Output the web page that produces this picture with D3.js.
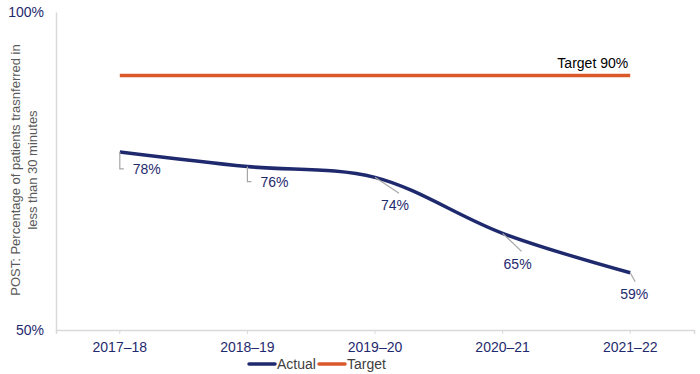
<!DOCTYPE html>
<html>
<head>
<meta charset="utf-8">
<script src="https://cdn.jsdelivr.net/npm/d3@7"></script>
<style>
  body { margin: 0; background: #fff; }
  svg { font-family: "Liberation Sans", Arial, sans-serif; }
</style>
</head>
<body>
<svg id="chart" width="700" height="374"></svg>
<script>
// data
const years = ['2017–18', '2018–19', '2019–20', '2020–21', '2021–22'];
const actual = [78.0, 75.7, 74.0, 65.2, 59.0];
const target = [90, 90, 90, 90, 90];
const yTicks = [50, 100];
// label offsets relative to each point (leader line end, label pos)
const labelOffsets = [
  {lx: 0, ly: 17, hx: 4, tx: 13, ty: 22, anchor: 'start'},
  {lx: 0, ly: 15, hx: 4, tx: 13, ty: 20, anchor: 'start'},
  {lx: 24, ly: 16, hx: 0, tx: 20, ty: 33, anchor: 'middle'},
  {lx: 19, ly: 18, hx: 0, tx: 15, ty: 36, anchor: 'middle'},
  {lx: 5, ly: 9, hx: 0, tx: 4, ty: 26, anchor: 'middle'}
];

const navy = '#1f2a6e';
const orange = '#d9592a';
const axisGrey = '#d9d9d9';

const margin = {top: 12, right: 6, bottom: 44, left: 56};
const width = 700 - margin.left - margin.right;
const height = 374 - margin.top - margin.bottom;

const svg = d3.select('#chart');
const chart = svg.append('g')
    .attr('transform', `translate(${margin.left},${margin.top})`);

const xScale = d3.scaleBand()
    .domain(years)
    .range([0, width]);
const xPos = d => xScale(d) + xScale.bandwidth() / 2;

const yScale = d3.scaleLinear()
    .domain([50, 100])
    .range([height, 0]);

// x axis
const xAxisG = chart.append('g')
    .attr('transform', `translate(0,${height})`)
    .call(d3.axisBottom(xScale).tickSize(4).tickPadding(8).tickSizeOuter(4));
xAxisG.select('.domain').attr('stroke', axisGrey).attr('stroke-width', 1.5);
xAxisG.selectAll('.tick line').attr('stroke', axisGrey);
xAxisG.selectAll('.tick text')
    .attr('fill', navy)
    .style('font-size', '14px');

// y axis
const yAxisG = chart.append('g')
    .call(d3.axisLeft(yScale).tickValues(yTicks).tickSize(0).tickPadding(12)
      .tickFormat(d => d + '%'));
yAxisG.select('.domain').attr('stroke', axisGrey).attr('stroke-width', 1.5);
yAxisG.selectAll('.tick text')
    .attr('fill', navy)
    .style('font-size', '14px');

// y axis title
const yTitle = svg.append('text')
    .attr('transform', 'translate(20,170) rotate(-90)')
    .attr('text-anchor', 'middle')
    .attr('fill', '#595959')
    .style('font-size', '13px');
yTitle.append('tspan').attr('x', 0).attr('dy', 0)
    .text('POST: Percentage of patients trasnferred in');
yTitle.append('tspan').attr('x', 0).attr('dy', 17)
    .text('less than 30 minutes');

// target line
const line = d3.line()
    .x((d, i) => xPos(years[i]))
    .y(d => yScale(d));

chart.append('path')
    .datum(target)
    .attr('fill', 'none')
    .attr('stroke', orange)
    .attr('stroke-width', 3.5)
    .attr('d', line);

chart.append('text')
    .attr('x', xPos(years[years.length - 1]) - 2)
    .attr('y', yScale(target[target.length - 1]) - 8)
    .attr('text-anchor', 'end')
    .attr('fill', '#000')
    .style('font-size', '14px')
    .text('Target ' + target[target.length - 1] + '%');

// actual line
chart.append('path')
    .datum(actual)
    .attr('fill', 'none')
    .attr('stroke', navy)
    .attr('stroke-width', 3.5)
    .attr('d', line.curve(d3.curveCatmullRom.alpha(0.5)));

// data labels with leader lines
const labels = chart.append('g');
actual.forEach((v, i) => {
  const x = xPos(years[i]);
  const y = yScale(v);
  const o = labelOffsets[i];
  const pts = o.hx ? [[x, y], [x + o.lx, y + o.ly], [x + o.hx, y + o.ly]]
                   : [[x, y], [x + o.lx, y + o.ly]];
  labels.append('path')
      .attr('d', d3.line()(pts))
      .attr('fill', 'none')
      .attr('stroke', '#a6a6a6')
      .attr('stroke-width', 1.2);
  labels.append('text')
      .attr('x', x + o.tx)
      .attr('y', y + o.ty)
      .attr('text-anchor', o.anchor)
      .attr('fill', navy)
      .style('font-size', '14px')
      .text(d3.format('.0f')(v) + '%');
});

// legend
const legend = svg.append('g').attr('transform', 'translate(249,364)');
const legendItems = [{name: 'Actual', color: navy}, {name: 'Target', color: orange}];
legendItems.forEach((d, i) => {
  const g = legend.append('g').attr('transform', `translate(${i * 70},0)`);
  g.append('line')
      .attr('x1', 0).attr('x2', 26)
      .attr('stroke', d.color)
      .attr('stroke-width', 3.5)
      .attr('stroke-linecap', 'round');
  g.append('text')
      .attr('x', 28)
      .attr('y', 4.5)
      .attr('fill', '#404040')
      .style('font-size', '14px')
      .text(d.name);
});
</script>
</body>
</html>
